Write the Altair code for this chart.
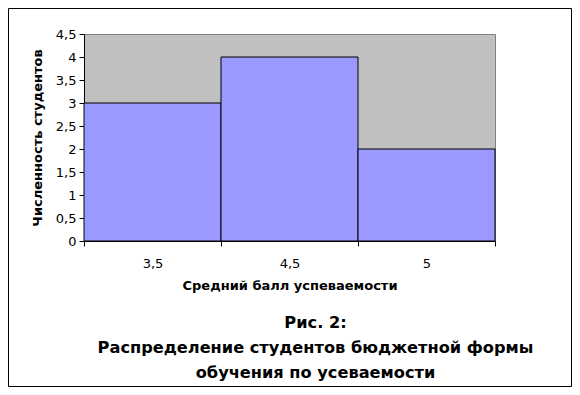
import altair as alt
import pandas as pd

categories = ["3,5", "4,5", "5"]
counts = [3, 4, 2]
caption = ["Рис. 2:", "Распределение студентов бюджетной формы", "обучения по усеваемости"]
y_title = "Численность студентов"
x_title = "Средний балл успеваемости"

df = pd.DataFrame({"cat": categories, "n": counts})

FONT = "DejaVu Sans"

bars = alt.Chart(df).mark_bar(
    color="#9999FF", stroke="black", strokeWidth=1
).encode(
    x=alt.X("cat:N", sort=categories, title=x_title,
            scale=alt.Scale(paddingInner=0, paddingOuter=0),
            axis=alt.Axis(labelAngle=0, tickBand="extent", tickSize=5,
                          labelPadding=11, titlePadding=9, domainColor="black",
                          tickColor="black", labelFontSize=13, titleFontSize=13,
                          titleFontWeight="bold", labelColor="black", titleColor="black",
                          labelFont=FONT, titleFont=FONT)),
    y=alt.Y("n:Q", title=y_title,
            scale=alt.Scale(domain=[0, 4.5], nice=False),
            axis=alt.Axis(values=[0, 0.5, 1, 1.5, 2, 2.5, 3, 3.5, 4, 4.5], grid=False,
                          labelExpr="replace(toString(datum.value), '.', ',')",
                          tickSize=5, labelPadding=3, titlePadding=11,
                          domainColor="black", tickColor="black",
                          labelFontSize=13, titleFontSize=13, titleFontWeight="bold",
                          labelColor="black", titleColor="black",
                          labelFont=FONT, titleFont=FONT)),
)

W, H = 411, 207
PL, PT = 76, 26
TOTW, TOTH = 564, 379

border = alt.Chart(pd.DataFrame({"k": [0]})).mark_rect(
    fill=None, stroke="black", strokeWidth=1, clip=False
).encode(
    x=alt.value(-PL + 0.5), x2=alt.value(TOTW - PL - 0.5),
    y=alt.value(-PT + 0.5), y2=alt.value(TOTH - PT - 0.5),
)

chart = alt.layer(bars, border).properties(
    width=W, height=H,
    autosize=alt.AutoSizeParams(type="none"),
    padding={"left": PL, "top": PT, "right": TOTW - PL - W, "bottom": TOTH - PT - H},
    title=alt.TitleParams(text=caption, orient="bottom", anchor="middle", frame="group",
                          dx=26, offset=-72, fontSize=16.2, fontWeight="bold", font=FONT,
                          lineHeight=25, color="black"),
).configure(
    background="white"
).configure_view(
    fill="#C0C0C0", stroke="#808080"
)

chart.save("out.html", embed_options={"renderer": "svg", "actions": False})
